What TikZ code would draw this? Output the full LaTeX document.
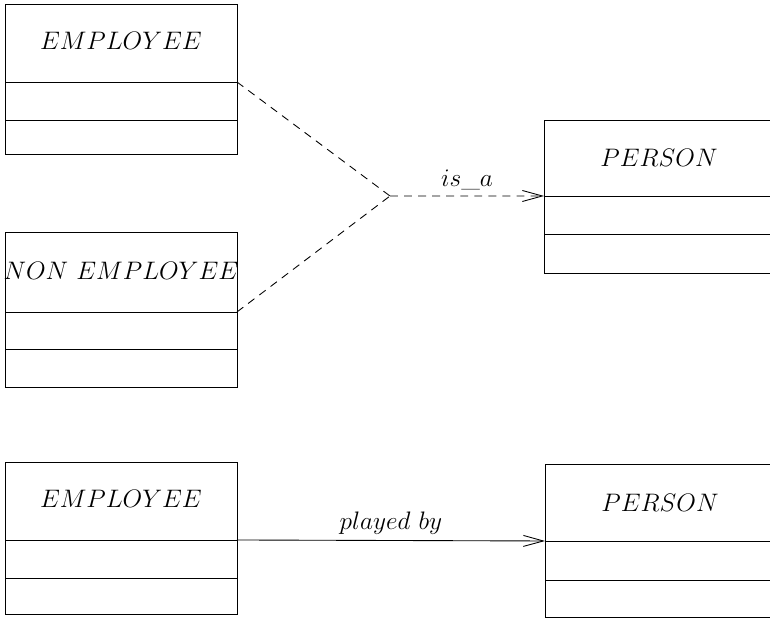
\documentclass[tikz,border=0pt]{standalone}
\usepackage{fix-cm}
\usetikzlibrary{positioning,arrows.meta}
\tikzset{
  classtitle/.style={draw,rectangle,inner sep=0pt,outer sep=0pt,anchor=north west,
    minimum height=1.56cm,font=\fontsize{14.4}{16}\selectfont},
  classslot/.style={draw,rectangle,inner sep=0pt,outer sep=0pt,minimum height=0.76cm},
  leftbox/.style={minimum width=4.64cm},
  rightbox/.style={minimum width=5.2cm},
  link/.style={line width=0.5pt,-{Straight Barb[length=4mm,width=2.2mm]}},
  dashlink/.style={line width=0.5pt,dash pattern=on 4.5pt off 3.5pt},
  linklabel/.style={font=\fontsize{14.4}{16}\selectfont,above}
}
\begin{document}
\begin{tikzpicture}[x=0.02cm,y=-0.02cm,line width=0.5pt]
\clip (0,0) rectangle (770,621);
% is_a part
\node[classtitle,leftbox] (emp) at (5,4) {\raisebox{2.5pt}{$EMPLOYEE$}};
\node[classslot,leftbox,below=0pt of emp] (empA) {};
\node[classslot,leftbox,below=0pt of empA,minimum height=0.68cm] (empB) {};
\node[classtitle,leftbox,minimum height=1.6cm] (non) at (5,232) {\makebox[0pt]{\raisebox{1.5pt}{$NON\ EMPLOYEE$}}};
\node[classslot,leftbox,below=0pt of non,minimum height=0.74cm] (nonA) {};
\node[classslot,leftbox,below=0pt of nonA] (nonB) {};
\node[classtitle,rightbox,minimum height=1.52cm] (per) at (544,120) {\hspace*{-0.6cm}$PERSON$};
\node[classslot,rightbox,below=0pt of per] (perA) {};
\node[classslot,rightbox,below=0pt of perA,minimum height=0.78cm] (perB) {};
\coordinate (j) at (390,196);
\draw[dashlink] (empA.north east)--(j);
\draw[dashlink] (nonA.north east)--(j);
\draw[dashlink,link] (j)--(perA.north west) node[linklabel,midway] {$is\_a$};
% played by part
\node[classtitle,leftbox] (emp2) at (5,462) {\raisebox{2.5pt}{$EMPLOYEE$}};
\node[classslot,leftbox,below=0pt of emp2] (emp2A) {};
\node[classslot,leftbox,below=0pt of emp2A,minimum height=0.72cm] (emp2B) {};
\node[classtitle,rightbox,minimum height=1.54cm] (per2) at (545,464) {\hspace*{-0.6cm}$PERSON$};
\node[classslot,rightbox,below=0pt of per2,minimum height=0.78cm] (per2A) {};
\node[classslot,rightbox,below=0pt of per2A,minimum height=0.74cm] (per2B) {};
\draw[link] (emp2A.north east)--(per2A.north west) node[linklabel,midway] {$played\ by$};
\end{tikzpicture}
\end{document}
